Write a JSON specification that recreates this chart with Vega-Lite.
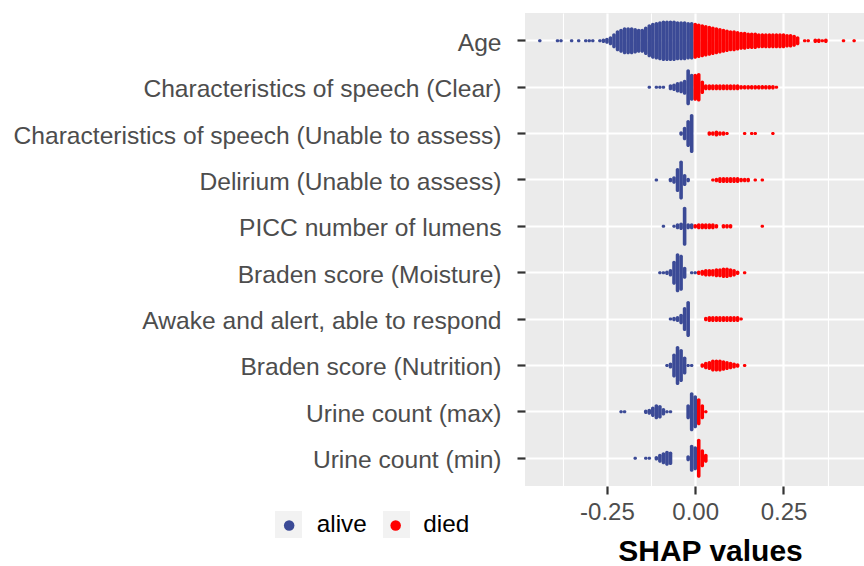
{
  "$schema": "https://vega.github.io/schema/vega-lite/v6.json",
  "width": 339,
  "height": 473,
  "autosize": {"type": "none"},
  "padding": {"left": 525, "top": 13, "right": 0, "bottom": 80},
  "config": {
    "font": "Liberation Sans",
    "view": {"fill": "#EBEBEB", "stroke": null},
    "tick": {"thickness": 3.6}
  },
  "datasets": {
    "features": [
      {"k": 1, "f": "Age"},
      {"k": 2, "f": "Characteristics of speech (Clear)"},
      {"k": 3, "f": "Characteristics of speech (Unable to assess)"},
      {"k": 4, "f": "Delirium (Unable to assess)"},
      {"k": 5, "f": "PICC number of lumens"},
      {"k": 6, "f": "Braden score (Moisture)"},
      {"k": 7, "f": "Awake and alert, able to respond"},
      {"k": 8, "f": "Braden score (Nutrition)"},
      {"k": 9, "f": "Urine count (max)"},
      {"k": 10, "f": "Urine count (min)"}
    ]
  },
  "data": {"values": [
    {"k":1,"g":"alive","v":-0.44,"n":1},{"k":1,"g":"alive","v":-0.39,"n":1},{"k":1,"g":"alive","v":-0.38,"n":1},{"k":1,"g":"alive","v":-0.35,"n":1},{"k":1,"g":"alive","v":-0.33,"n":1},{"k":1,"g":"alive","v":-0.31,"n":1},{"k":1,"g":"alive","v":-0.30,"n":1},{"k":1,"g":"alive","v":-0.29,"n":1},{"k":1,"g":"alive","v":-0.27,"n":1},{"k":1,"g":"alive","v":-0.26,"n":1.5},
    {"k":1,"g":"alive","v":-0.25,"n":2},{"k":1,"g":"alive","v":-0.24,"n":3},{"k":1,"g":"alive","v":-0.23,"n":5},{"k":1,"g":"alive","v":-0.22,"n":7},{"k":1,"g":"alive","v":-0.21,"n":8},{"k":1,"g":"alive","v":-0.20,"n":9},{"k":1,"g":"alive","v":-0.19,"n":9},{"k":1,"g":"alive","v":-0.18,"n":9},{"k":1,"g":"alive","v":-0.17,"n":8.5},{"k":1,"g":"alive","v":-0.16,"n":8},
    {"k":1,"g":"alive","v":-0.15,"n":8},{"k":1,"g":"alive","v":-0.14,"n":9.5},{"k":1,"g":"alive","v":-0.13,"n":11},{"k":1,"g":"alive","v":-0.12,"n":12},{"k":1,"g":"alive","v":-0.11,"n":12.5},{"k":1,"g":"alive","v":-0.10,"n":13},{"k":1,"g":"alive","v":-0.09,"n":13.5},{"k":1,"g":"alive","v":-0.08,"n":13.5},{"k":1,"g":"alive","v":-0.07,"n":13.5},{"k":1,"g":"alive","v":-0.06,"n":13.5},
    {"k":1,"g":"alive","v":-0.05,"n":13},{"k":1,"g":"alive","v":-0.04,"n":13},{"k":1,"g":"alive","v":-0.03,"n":13},{"k":1,"g":"alive","v":-0.02,"n":12.5},{"k":1,"g":"alive","v":-0.01,"n":12.5},
    {"k":1,"g":"died","v":0.00,"n":12},{"k":1,"g":"died","v":0.01,"n":11.5},{"k":1,"g":"died","v":0.02,"n":11},{"k":1,"g":"died","v":0.03,"n":10.5},{"k":1,"g":"died","v":0.04,"n":10},{"k":1,"g":"died","v":0.05,"n":9.5},{"k":1,"g":"died","v":0.06,"n":9},{"k":1,"g":"died","v":0.07,"n":8.5},{"k":1,"g":"died","v":0.08,"n":8},{"k":1,"g":"died","v":0.09,"n":7.5},
    {"k":1,"g":"died","v":0.10,"n":7},{"k":1,"g":"died","v":0.11,"n":7},{"k":1,"g":"died","v":0.12,"n":6.5},{"k":1,"g":"died","v":0.13,"n":6},{"k":1,"g":"died","v":0.14,"n":6},{"k":1,"g":"died","v":0.15,"n":5.5},{"k":1,"g":"died","v":0.16,"n":5.5},{"k":1,"g":"died","v":0.17,"n":5.5},{"k":1,"g":"died","v":0.18,"n":5},{"k":1,"g":"died","v":0.19,"n":5},
    {"k":1,"g":"died","v":0.20,"n":5},{"k":1,"g":"died","v":0.21,"n":5},{"k":1,"g":"died","v":0.22,"n":5},{"k":1,"g":"died","v":0.23,"n":5},{"k":1,"g":"died","v":0.24,"n":5},{"k":1,"g":"died","v":0.25,"n":5},{"k":1,"g":"died","v":0.26,"n":4.5},{"k":1,"g":"died","v":0.27,"n":4.5},{"k":1,"g":"died","v":0.28,"n":4},{"k":1,"g":"died","v":0.29,"n":3},
    {"k":1,"g":"died","v":0.31,"n":1},{"k":1,"g":"died","v":0.32,"n":1},{"k":1,"g":"died","v":0.34,"n":1.5},{"k":1,"g":"died","v":0.35,"n":1.5},{"k":1,"g":"died","v":0.36,"n":1},{"k":1,"g":"died","v":0.37,"n":1.5},{"k":1,"g":"died","v":0.42,"n":1},{"k":1,"g":"died","v":0.45,"n":1},

    {"k":2,"g":"alive","v":-0.13,"n":1},{"k":2,"g":"alive","v":-0.11,"n":1},{"k":2,"g":"alive","v":-0.10,"n":1},{"k":2,"g":"alive","v":-0.09,"n":1},{"k":2,"g":"alive","v":-0.07,"n":2},{"k":2,"g":"alive","v":-0.06,"n":2.5},{"k":2,"g":"alive","v":-0.05,"n":3.5},{"k":2,"g":"alive","v":-0.04,"n":4},{"k":2,"g":"alive","v":-0.03,"n":5},{"k":2,"g":"alive","v":-0.02,"n":12},{"k":2,"g":"alive","v":-0.01,"n":9},
    {"k":2,"g":"died","v":0.00,"n":9},{"k":2,"g":"died","v":0.01,"n":9.5},{"k":2,"g":"died","v":0.02,"n":4.5},{"k":2,"g":"died","v":0.03,"n":2},{"k":2,"g":"died","v":0.04,"n":2},{"k":2,"g":"died","v":0.05,"n":2},{"k":2,"g":"died","v":0.06,"n":2},{"k":2,"g":"died","v":0.07,"n":2},{"k":2,"g":"died","v":0.08,"n":2},{"k":2,"g":"died","v":0.09,"n":2},
    {"k":2,"g":"died","v":0.10,"n":2},{"k":2,"g":"died","v":0.11,"n":2},{"k":2,"g":"died","v":0.12,"n":2},{"k":2,"g":"died","v":0.13,"n":1.5},{"k":2,"g":"died","v":0.14,"n":1.5},{"k":2,"g":"died","v":0.15,"n":1.5},{"k":2,"g":"died","v":0.16,"n":1.5},{"k":2,"g":"died","v":0.17,"n":1.5},{"k":2,"g":"died","v":0.18,"n":1.5},{"k":2,"g":"died","v":0.19,"n":1.5},
    {"k":2,"g":"died","v":0.20,"n":1.5},{"k":2,"g":"died","v":0.21,"n":1.5},{"k":2,"g":"died","v":0.22,"n":1.5},{"k":2,"g":"died","v":0.23,"n":1},

    {"k":3,"g":"alive","v":-0.04,"n":1.5},{"k":3,"g":"alive","v":-0.03,"n":4.5},{"k":3,"g":"alive","v":-0.02,"n":9},{"k":3,"g":"alive","v":-0.01,"n":13},
    {"k":3,"g":"died","v":0.04,"n":1.5},{"k":3,"g":"died","v":0.05,"n":1.5},{"k":3,"g":"died","v":0.06,"n":2},{"k":3,"g":"died","v":0.07,"n":1.5},{"k":3,"g":"died","v":0.08,"n":1.5},{"k":3,"g":"died","v":0.09,"n":1},{"k":3,"g":"died","v":0.14,"n":1},{"k":3,"g":"died","v":0.16,"n":1},{"k":3,"g":"died","v":0.17,"n":1},{"k":3,"g":"died","v":0.22,"n":1},

    {"k":4,"g":"alive","v":-0.11,"n":1},{"k":4,"g":"alive","v":-0.07,"n":1.5},{"k":4,"g":"alive","v":-0.06,"n":2.5},{"k":4,"g":"alive","v":-0.05,"n":8},{"k":4,"g":"alive","v":-0.04,"n":13},{"k":4,"g":"alive","v":-0.03,"n":4},{"k":4,"g":"alive","v":-0.02,"n":1.5},
    {"k":4,"g":"died","v":0.05,"n":1},{"k":4,"g":"died","v":0.06,"n":1.5},{"k":4,"g":"died","v":0.07,"n":2},{"k":4,"g":"died","v":0.08,"n":2},{"k":4,"g":"died","v":0.09,"n":2},{"k":4,"g":"died","v":0.10,"n":2},{"k":4,"g":"died","v":0.11,"n":2},{"k":4,"g":"died","v":0.12,"n":2},{"k":4,"g":"died","v":0.13,"n":1.5},{"k":4,"g":"died","v":0.14,"n":1.5},{"k":4,"g":"died","v":0.15,"n":1.5},{"k":4,"g":"died","v":0.17,"n":1},{"k":4,"g":"died","v":0.19,"n":1},

    {"k":5,"g":"alive","v":-0.09,"n":1},{"k":5,"g":"alive","v":-0.06,"n":1},{"k":5,"g":"alive","v":-0.05,"n":2},{"k":5,"g":"alive","v":-0.04,"n":2.5},{"k":5,"g":"alive","v":-0.03,"n":13},{"k":5,"g":"alive","v":-0.02,"n":2},{"k":5,"g":"alive","v":-0.01,"n":2},
    {"k":5,"g":"died","v":0.00,"n":1.5},{"k":5,"g":"died","v":0.01,"n":2},{"k":5,"g":"died","v":0.02,"n":2},{"k":5,"g":"died","v":0.03,"n":2},{"k":5,"g":"died","v":0.04,"n":2},{"k":5,"g":"died","v":0.05,"n":2},{"k":5,"g":"died","v":0.06,"n":1.5},{"k":5,"g":"died","v":0.08,"n":1.5},{"k":5,"g":"died","v":0.09,"n":1.5},{"k":5,"g":"died","v":0.10,"n":1.5},{"k":5,"g":"died","v":0.19,"n":1},

    {"k":6,"g":"alive","v":-0.10,"n":1},{"k":6,"g":"alive","v":-0.09,"n":1},{"k":6,"g":"alive","v":-0.08,"n":1.5},{"k":6,"g":"alive","v":-0.07,"n":2.5},{"k":6,"g":"alive","v":-0.06,"n":8},{"k":6,"g":"alive","v":-0.05,"n":13},{"k":6,"g":"alive","v":-0.04,"n":12},{"k":6,"g":"alive","v":-0.03,"n":4},{"k":6,"g":"alive","v":-0.01,"n":1},{"k":6,"g":"alive","v":0.00,"n":1},
    {"k":6,"g":"died","v":0.01,"n":1.5},{"k":6,"g":"died","v":0.02,"n":2},{"k":6,"g":"died","v":0.03,"n":2.5},{"k":6,"g":"died","v":0.04,"n":2.5},{"k":6,"g":"died","v":0.05,"n":2.5},{"k":6,"g":"died","v":0.06,"n":3},{"k":6,"g":"died","v":0.07,"n":3},{"k":6,"g":"died","v":0.08,"n":3.5},{"k":6,"g":"died","v":0.09,"n":3.5},{"k":6,"g":"died","v":0.10,"n":3},{"k":6,"g":"died","v":0.11,"n":2.5},{"k":6,"g":"died","v":0.12,"n":1.5},{"k":6,"g":"died","v":0.14,"n":1},

    {"k":7,"g":"alive","v":-0.07,"n":1},{"k":7,"g":"alive","v":-0.06,"n":1.5},{"k":7,"g":"alive","v":-0.05,"n":2},{"k":7,"g":"alive","v":-0.04,"n":3.5},{"k":7,"g":"alive","v":-0.03,"n":8},{"k":7,"g":"alive","v":-0.02,"n":12},
    {"k":7,"g":"died","v":0.03,"n":1.5},{"k":7,"g":"died","v":0.04,"n":2},{"k":7,"g":"died","v":0.05,"n":2},{"k":7,"g":"died","v":0.06,"n":2},{"k":7,"g":"died","v":0.07,"n":2},{"k":7,"g":"died","v":0.08,"n":2},{"k":7,"g":"died","v":0.09,"n":2},{"k":7,"g":"died","v":0.10,"n":2},{"k":7,"g":"died","v":0.11,"n":2},{"k":7,"g":"died","v":0.12,"n":2},{"k":7,"g":"died","v":0.13,"n":1},

    {"k":8,"g":"alive","v":-0.08,"n":1},{"k":8,"g":"alive","v":-0.07,"n":2},{"k":8,"g":"alive","v":-0.06,"n":8},{"k":8,"g":"alive","v":-0.05,"n":13},{"k":8,"g":"alive","v":-0.04,"n":11},{"k":8,"g":"alive","v":-0.03,"n":6},{"k":8,"g":"alive","v":-0.02,"n":1},{"k":8,"g":"alive","v":-0.01,"n":1},
    {"k":8,"g":"died","v":0.02,"n":1.5},{"k":8,"g":"died","v":0.03,"n":2.5},{"k":8,"g":"died","v":0.04,"n":3},{"k":8,"g":"died","v":0.05,"n":4},{"k":8,"g":"died","v":0.06,"n":4},{"k":8,"g":"died","v":0.07,"n":4},{"k":8,"g":"died","v":0.08,"n":3.5},{"k":8,"g":"died","v":0.09,"n":3},{"k":8,"g":"died","v":0.10,"n":2.5},{"k":8,"g":"died","v":0.11,"n":2},{"k":8,"g":"died","v":0.12,"n":1.5},{"k":8,"g":"died","v":0.14,"n":1},

    {"k":9,"g":"alive","v":-0.21,"n":1},{"k":9,"g":"alive","v":-0.20,"n":1},{"k":9,"g":"alive","v":-0.14,"n":1.5},{"k":9,"g":"alive","v":-0.13,"n":2},{"k":9,"g":"alive","v":-0.12,"n":3.5},{"k":9,"g":"alive","v":-0.11,"n":5},{"k":9,"g":"alive","v":-0.10,"n":4.5},{"k":9,"g":"alive","v":-0.09,"n":2.5},{"k":9,"g":"alive","v":-0.08,"n":1},{"k":9,"g":"alive","v":-0.07,"n":1},{"k":9,"g":"alive","v":-0.02,"n":5},{"k":9,"g":"alive","v":-0.01,"n":13},{"k":9,"g":"alive","v":0.00,"n":11},
    {"k":9,"g":"died","v":0.01,"n":9},{"k":9,"g":"died","v":0.02,"n":5},{"k":9,"g":"died","v":0.03,"n":1},

    {"k":10,"g":"alive","v":-0.17,"n":1},{"k":10,"g":"alive","v":-0.14,"n":1},{"k":10,"g":"alive","v":-0.13,"n":1},{"k":10,"g":"alive","v":-0.11,"n":1.5},{"k":10,"g":"alive","v":-0.10,"n":3},{"k":10,"g":"alive","v":-0.09,"n":4},{"k":10,"g":"alive","v":-0.08,"n":5},{"k":10,"g":"alive","v":-0.07,"n":4.5},{"k":10,"g":"alive","v":-0.02,"n":2},{"k":10,"g":"alive","v":-0.01,"n":9},{"k":10,"g":"alive","v":0.00,"n":8},
    {"k":10,"g":"died","v":0.01,"n":13},{"k":10,"g":"died","v":0.02,"n":6},{"k":10,"g":"died","v":0.03,"n":3}
  ]},
  "transform": [
    {"lookup": "k", "from": {"data": {"name": "features"}, "key": "k", "fields": ["f"]}}
  ],
  "encoding": {
    "x": {
      "field": "v", "type": "quantitative",
      "scale": {"domain": [-0.482, 0.478], "nice": false, "zero": false},
      "axis": {
        "values": [-0.375, -0.25, -0.125, 0, 0.125, 0.25, 0.375],
        "labelExpr": "abs(datum.value) % 0.25 < 0.001 ? (datum.value < 0 ? '-' : '') + format(abs(datum.value), '.2f') : ''",
        "labelFontSize": 24, "labelColor": "#4D4D4D", "labelPadding": 6,
        "tickColor": "#333333", "tickWidth": 2.2, "tickSize": 8,
        "tickOpacity": {"condition": {"test": "abs(datum.value) % 0.25 < 0.001", "value": 1}, "value": 0},
        "domain": false,
        "grid": true, "gridColor": "#FFFFFF",
        "gridWidth": {"condition": {"test": "abs(datum.value) % 0.25 < 0.001", "value": 2.2}, "value": 1.1},
        "title": "SHAP values", "titleFontSize": 30, "titleFontWeight": "bold", "titleColor": "#000000",
        "titleX": 185, "titleY": 74, "titleAlign": "center", "titleBaseline": "alphabetic"
      }
    },
    "y": {
      "field": "f", "type": "nominal",
      "sort": ["Age", "Characteristics of speech (Clear)", "Characteristics of speech (Unable to assess)", "Delirium (Unable to assess)", "PICC number of lumens", "Braden score (Moisture)", "Awake and alert, able to respond", "Braden score (Nutrition)", "Urine count (max)", "Urine count (min)"],
      "scale": {"paddingInner": 0, "paddingOuter": 0.1},
      "axis": {
        "title": null, "labelFontSize": 24.6, "labelColor": "#4D4D4D", "labelPadding": 16, "labelLimit": 700, "labelOffset": 3,
        "tickColor": "#333333", "tickWidth": 2.2, "tickSize": 8, "bandPosition": 0.5,
        "domain": false, "grid": true, "gridColor": "#FFFFFF", "gridWidth": 2.2
      }
    }
  },
  "layer": [
    {
      "mark": {"type": "point", "filled": true, "opacity": 0, "color": "#F2F2F2"},
      "encoding": {
        "shape": {
          "field": "g", "type": "nominal",
          "scale": {"domain": ["died", "alive"], "range": ["square", "square"]},
          "legend": {
            "orient": "none", "direction": "horizontal", "legendX": -250, "legendY": 498,
            "title": null, "symbolSize": 729, "symbolFillColor": "#F2F2F2", "symbolStrokeWidth": 0,
            "symbolOpacity": 1, "labelExpr": "''", "labelOffset": 0, "columnPadding": 81, "zindex": 0
          }
        }
      }
    },
    {
      "mark": {"type": "tick", "cornerRadius": 1.8, "opacity": 1},
      "encoding": {
        "size": {"field": "n", "type": "quantitative", "scale": {"domain": [0, 14], "range": [0, 42]}, "legend": null},
        "color": {
          "field": "g", "type": "nominal",
          "scale": {"domain": ["alive", "died"], "range": ["#3B4A96", "#FF0000"]},
          "legend": {
            "orient": "none", "direction": "horizontal", "legendX": -248, "legendY": 500,
            "title": null, "symbolType": "circle", "symbolSize": 110, "symbolStrokeWidth": 0, "symbolOpacity": 1,
            "labelFontSize": 24.3, "labelColor": "#000000", "labelOffset": 15.5, "columnPadding": 16.5, "zindex": 1
          }
        }
      }
    }
  ]
}
